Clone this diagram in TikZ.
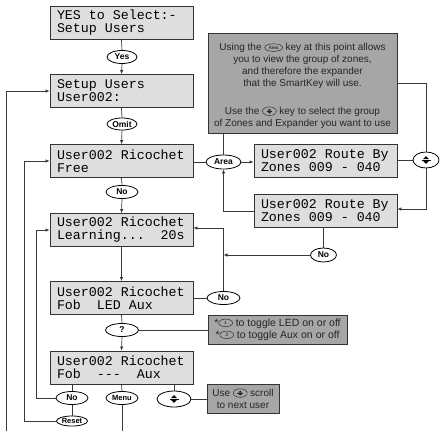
\documentclass[tikz,border=0pt]{standalone}
\usepackage{fontspec}
\setmainfont{Liberation Sans}
\newfontfamily\lcdfont{Liberation Mono}
\newfontfamily\keyfont{Liberation Sans}
\newfontfamily\notefont{Liberation Sans}
\usetikzlibrary{shapes.geometric,arrows.meta,calc}
\definecolor{lcdgray}{HTML}{DEDEDE}
\definecolor{notegray}{HTML}{A6A6A6}
\definecolor{lncol}{HTML}{3A3A3A}
\newcommand{\lsp}{\hspace*{0.6em}}
\newcommand{\udpgf}[1]{%
  \pgfpathmoveto{\pgfpoint{-#1}{0.3*#1}}\pgfpathlineto{\pgfpoint{#1}{0.3*#1}}\pgfpathlineto{\pgfpoint{0pt}{1.3*#1}}\pgfpathclose
  \pgfpathmoveto{\pgfpoint{-#1}{-0.3*#1}}\pgfpathlineto{\pgfpoint{#1}{-0.3*#1}}\pgfpathlineto{\pgfpoint{0pt}{-1.3*#1}}\pgfpathclose
  \pgfusepath{fill}%
  \pgfsetlinewidth{0.4pt}%
  \pgfpathmoveto{\pgfpoint{-1.5*#1}{0pt}}\pgfpathlineto{\pgfpoint{1.5*#1}{0pt}}\pgfusepath{stroke}}
\newcommand{\udsym}[1]{\begin{pgfpicture}\udpgf{#1}\end{pgfpicture}}
\newcommand{\udicon}{\begin{pgfpicture}\pgfsetbaseline{-3.3pt}%
  \pgfpathellipse{\pgfpointorigin}{\pgfpoint{7pt}{0pt}}{\pgfpoint{0pt}{4.3pt}}%
  \pgfsetlinewidth{0.45pt}\pgfusepath{stroke}\udpgf{1.9pt}\end{pgfpicture}}
\newcommand{\keyicon}[2]{\begin{pgfpicture}\pgfsetbaseline{-3.3pt}%
  \pgfpathellipse{\pgfpointorigin}{\pgfpoint{#2}{0pt}}{\pgfpoint{0pt}{3.8pt}}%
  \pgfsetlinewidth{0.45pt}\pgfusepath{stroke}%
  \pgftext{\keyfont\fontsize{4.5}{5}\selectfont #1}\end{pgfpicture}}
\tikzset{
  lcd/.style={draw=black!80, fill=lcdgray, line width=0.8pt, minimum width=143pt, minimum height=33pt,
    inner xsep=7pt, inner ysep=1pt, text width=129pt, align=left,
    font=\lcdfont\fontsize{13.3}{13}\selectfont},
  key/.style={ellipse, draw=black, line width=0.8pt, fill=white, inner sep=0pt,
    font=\keyfont\bfseries\fontsize{8.5}{9}\selectfont},
  note/.style={draw=black!80, fill=notegray, line width=0.8pt, inner sep=0pt},
  notetext/.style={align=center, inner sep=0pt, text=black!85, font=\notefont\fontsize{10}{11.8}\selectfont},
  smalltext/.style={align=center, inner sep=0pt, text=black!85, font=\notefont\fontsize{10}{12}\selectfont},
  ln/.style={draw=lncol, line width=0.7pt},
  arr/.style={ln, -{Latex[length=4pt,width=3.5pt]}},
}
\frenchspacing
\begin{document}
\begin{tikzpicture}[x=1pt,y=-1pt]
\useasboundingbox (0,0) rectangle (441,431);
% LCD boxes
\node[lcd] (b1) at (121.5,23) {YES\lsp to\lsp Select:-\\Setup\lsp Users};
\node[lcd] (b2) at (121.5,91) {Setup\lsp Users\\User002:};
\node[lcd] (b3) at (121.5,161) {User002\lsp Ricochet\\Free};
\node[lcd] (b4) at (121.5,230) {User002\lsp Ricochet\\Learning...\lsp\lsp 20s};
\node[lcd] (b5) at (121.5,298) {User002\lsp Ricochet\\Fob\lsp\lsp LED\lsp Aux};
\node[lcd] (b6) at (121.5,367.5) {User002\lsp Ricochet\\Fob\lsp\lsp ---\lsp\lsp Aux};
\node[lcd] (r1) at (325.5,161) {User002\lsp Route\lsp By\\Zones\lsp 009\lsp -\lsp 040};
\node[lcd] (r2) at (325.5,211) {User002\lsp Route\lsp By\\Zones\lsp 009\lsp -\lsp 040};
% note boxes
\node[note, minimum width=189pt, minimum height=100pt] (info) at (302.5,83) {};
\node[notetext] (infot1) at (302.5,66) {Using the \keyicon{Area}{9pt} key at this point allows\\you to view the group of zones,\\and therefore the expander\\that the SmartKey will use.};
\node[notetext] (infot2) at (302.5,117.5) {Use the \udicon{} key to select the group\\of Zones and Expander you want to use};
\node[note, minimum width=139pt, minimum height=29pt] (toggle) at (277.5,329.5) {};
\node[smalltext, font=\notefont\fontsize{10.5}{12}\selectfont] (togglet) at (277.5,329.5) {*\keyicon{1}{7pt} to toggle LED on or off\\*\keyicon{2}{7pt} to toggle Aux on or off};
\node[note, minimum width=72pt, minimum height=29pt] (usebox) at (243,398.5) {};
\node[smalltext] (uset) at (243,398.5) {Use \udicon{} scroll\\to next user};
% keys
\node[key, minimum width=30pt, minimum height=13pt] (yes) at (122,57) {Yes};
\node[key, minimum width=30pt, minimum height=12pt] (omit) at (122,124) {Omit};
\node[key, minimum width=32pt, minimum height=13pt] (no1) at (122,192) {No};
\node[key, minimum width=35pt, minimum height=14pt] (area) at (223.5,162) {Area};
\node[key, minimum width=26pt, minimum height=16pt] (ud1) at (426,160) {\udsym{3pt}};
\node[key, minimum width=26pt, minimum height=14pt] (noR) at (323.5,255) {No};
\node[key, minimum width=33pt, minimum height=13pt] (noF) at (223.5,298) {No};
\node[key, minimum width=33pt, minimum height=13pt] (q) at (122,330) {?};
\node[key, minimum width=32pt, minimum height=13pt] (noB) at (72,398) {No};
\node[key, minimum width=32pt, minimum height=13pt, font=\keyfont\bfseries\fontsize{7.5}{8}\selectfont] (menu) at (122,398) {Menu};
\node[key, minimum width=34pt, minimum height=16pt] (ud2) at (174,399) {\udsym{3pt}};
\node[key, minimum width=31pt, minimum height=10pt, font=\keyfont\bfseries\fontsize{7.5}{8}\selectfont] (reset) at (72,421) {Reset};
\coordinate (outbot) at (6,431);
\coordinate (menubot) at (122,431);
% main column
\draw[ln] (b1.south) -- (yes.north);
\draw[arr] (yes.south) -- (b2.north);
\draw[ln] (b2.south) -- (omit.north);
\draw[arr] (omit.south) -- (b3.north);
\draw[ln] (b3.south) -- (no1.north);
\draw[arr] (no1.south) -- (b4.north);
\draw[arr] (b4.south) -- (b5.north);
\draw[ln] (b5.south) -- (q.north);
\draw[arr] (q.south) -- (b6.north);
\draw[ln] (b6.south -| noB.north) -- (noB.north);
\draw[ln] (noB.south) -- (reset.north);
\draw[ln] (b6.south) -- (menu.north);
\draw[ln] (menu.south) -- (menubot);
\draw[ln] (b6.south -| ud2.north) -- (ud2.north);
\draw[ln] (ud2.east) -- (ud2.east -| usebox.west);
\draw[ln] (q.east) -- (q.east -| toggle.west);
% left feedback lines
\draw[arr] (outbot) |- (b2.west);
\draw[arr] (reset.west) -| ([xshift=-25pt]b3.west) -- (b3.west);
\draw[arr] (noB.west) -| ([xshift=-13pt]b4.west) -- (b4.west);
% right side
\draw[ln] (b3.east |- area.west) -- (area.west);
\draw[arr] (area.east) -- (area.east -| r1.west);
\draw[ln] (area.north) -- (area.north |- info.south);
\draw[arr] (r2.west) -| (area.south);
\draw[ln] (r1.east |- ud1.west) -- (ud1.west);
\draw[ln] (ud1.north) |- (info.east);
\draw[arr] (ud1.south) |- ([yshift=2pt]r2.east);
\draw[ln] (r2.south -| noR.north) -- (noR.north);
\draw[ln] (b5.east |- noF.west) -- (noF.west);
\draw[arr] (noF.north) |- ([yshift=2pt]b4.east);
\draw[arr] (noR.west) -- (noR.west -| noF.north);
\end{tikzpicture}
\end{document}
